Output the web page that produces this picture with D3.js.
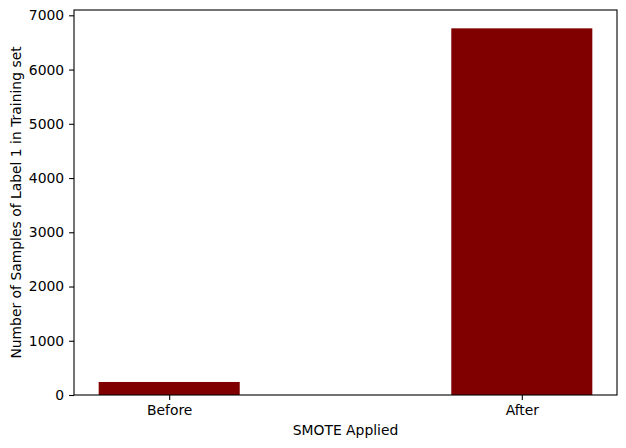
<!DOCTYPE html>
<html><head><meta charset="utf-8">
<script src="https://cdn.jsdelivr.net/npm/d3@7"></script>
<style>body{margin:0;background:#fff}text{font-family:"DejaVu Sans",sans-serif}</style>
</head><body><svg id="c" width="626" height="448"></svg>
<script>
const categories = ["Before", "After"];
const values = [240, 6760];
const yTicks = [0, 1000, 2000, 3000, 4000, 5000, 6000, 7000];

const svg = d3.select("#c");
const L = 74, R = 617, T = 10, B = 395;
const x = d3.scaleLinear().domain([-0.27, 1.27]).range([L, R]);
const y = d3.scaleLinear().domain([0, 6760 * 1.05]).range([B, T]);
const bw = 0.4;

svg.selectAll("rect.bar").data(values).enter().append("rect")
  .attr("x", (d, i) => x(i - bw / 2))
  .attr("width", (d, i) => x(i + bw / 2) - x(i - bw / 2))
  .attr("y", d => y(d))
  .attr("height", d => B - y(d))
  .attr("fill", "#800000");

const fs = "13.9px";
const ya = svg.append("g").attr("transform", `translate(${L},0)`)
  .call(d3.axisLeft(y).tickValues(yTicks).tickFormat(d3.format("d")).tickSize(4.9).tickPadding(4.9));
const xa = svg.append("g").attr("transform", `translate(0,${B})`)
  .call(d3.axisBottom(x).tickValues([0, 1]).tickFormat(i => categories[i]).tickSize(4.9).tickPadding(4.9));
[ya, xa].forEach(a => {
  a.select(".domain").remove();
  a.selectAll("line").attr("stroke", "#000").attr("stroke-width", 1.1);
  a.selectAll("text").style("font-size", "13.9px").attr("fill", "#000").style("font-family", "DejaVu Sans");
});
svg.append("rect").attr("x", L).attr("y", T).attr("width", R - L).attr("height", B - T)
  .attr("fill", "none").attr("stroke", "#000").attr("stroke-width", 1.1);

svg.append("text").attr("x", (L + R) / 2).attr("y", 435).attr("text-anchor", "middle")
  .style("font-size", fs).text("SMOTE Applied");
svg.append("text").attr("transform", `translate(21,${(T + B) / 2}) rotate(-90)`).attr("text-anchor", "middle")
  .style("font-size", fs).text("Number of Samples of Label 1 in Training set");
</script></body></html>
